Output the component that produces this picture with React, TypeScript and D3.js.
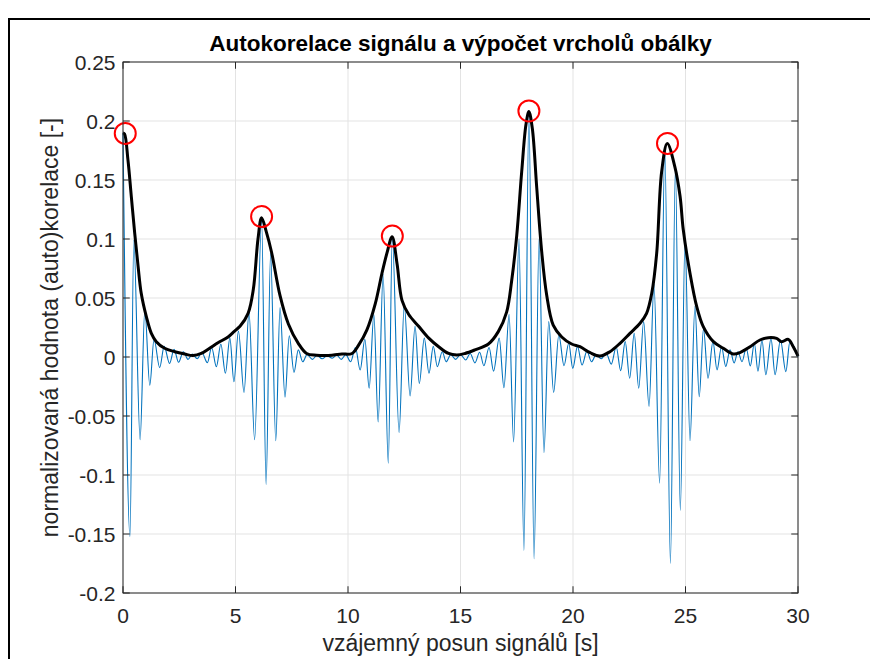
import React from 'react';
import * as d3 from 'd3';

const signalTime = [
  0.00, 0.31, 0.48, 0.76, 0.97, 1.19, 1.38, 1.63, 1.83, 2.07, 2.27, 2.47, 2.68, 2.89, 3.08, 3.30, 3.50, 3.75, 3.94, 4.15,
  4.35, 4.55, 4.75, 4.93, 5.13, 5.38, 5.60, 5.85, 6.16, 6.36, 6.56, 6.79, 6.98, 7.20, 7.39, 7.60, 7.79, 7.99, 8.18, 8.42,
  8.62, 8.85, 9.07, 9.30, 9.50, 9.70, 9.90, 10.12, 10.33, 10.54, 10.75, 10.94, 11.15, 11.34, 11.56, 11.79, 11.97, 12.27, 12.50, 12.76,
  12.98, 13.17, 13.39, 13.60, 13.79, 13.97, 14.19, 14.36, 14.57, 14.78, 15.00, 15.23, 15.43, 15.64, 15.85, 16.04, 16.27, 16.47, 16.72, 16.93,
  17.16, 17.36, 17.60, 17.82, 18.04, 18.27, 18.49, 18.71, 18.92, 19.14, 19.37, 19.60, 19.81, 19.99, 20.20, 20.40, 20.62, 20.82, 21.03, 21.25,
  21.48, 21.70, 21.92, 22.12, 22.32, 22.52, 22.72, 22.92, 23.14, 23.38, 23.60, 23.85, 24.08, 24.33, 24.55, 24.77, 24.98, 25.20, 25.42, 25.61,
  25.80, 26.00, 26.22, 26.40, 26.60, 26.79, 26.98, 27.16, 27.33, 27.51, 27.70, 27.88, 28.06, 28.22, 28.40, 28.57, 28.80, 28.98, 29.22, 29.46,
  29.64, 30.00,
];
const signalValue = [
  0.19, -0.152, 0.099, -0.070, 0.040, -0.024, 0.015, -0.009, 0.009, -0.0055, 0.0065, -0.0045, 0.0045, -0.002, 0.0025, -0.0015, 0.004, -0.0048, 0.008, -0.0082,
  0.011, -0.0138, 0.016, -0.021, 0.022, -0.030, 0.038, -0.070, 0.116, -0.108, 0.088, -0.071, 0.042, -0.034, 0.018, -0.013, 0.006, -0.004, 0.002, -0.002,
  0.0015, -0.0015, 0.001, -0.001, 0.0015, -0.002, 0.002, -0.004, 0.008, -0.011, 0.015, -0.0265, 0.036, -0.055, 0.070, -0.090, 0.102, -0.064, 0.044, -0.033,
  0.026, -0.0225, 0.016, -0.0138, 0.009, -0.0082, 0.0045, -0.004, 0.002, -0.002, 0.002, -0.0025, 0.003, -0.005, 0.004, -0.0074, 0.008, -0.012, 0.016, -0.026,
  0.036, -0.072, 0.100, -0.164, 0.207, -0.171, 0.100, -0.081, 0.030, -0.030, 0.0186, -0.0074, 0.0116, -0.0096, 0.009, -0.0068, 0.005, -0.004, 0.002, -0.0015,
  0.003, -0.006, 0.0085, -0.0116, 0.013, -0.018, 0.020, -0.0265, 0.030, -0.042, 0.062, -0.107, 0.178, -0.175, 0.160, -0.130, 0.100, -0.071, 0.043, -0.0336,
  0.024, -0.018, 0.013, -0.011, 0.0087, -0.008, 0.006, -0.005, 0.0045, -0.004, 0.0074, -0.0076, 0.0116, -0.012, 0.0144, -0.015, 0.0158, -0.015, 0.0144, -0.0124,
  0.013, 0.000,
];

const envelopeTime = [
  0.00, 0.07, 0.22, 0.37, 0.52, 0.67, 0.81, 1.04, 1.26, 1.48, 1.85, 2.30, 2.74, 3.11, 3.48, 3.85, 4.22, 4.67, 4.96, 5.20,
  5.56, 5.79, 6.00, 6.16, 6.37, 6.60, 6.98, 7.35, 7.79, 8.16, 8.60, 9.00, 9.35, 9.73, 10.18, 10.47, 10.84, 11.21, 11.51, 11.73,
  11.96, 12.18, 12.40, 12.70, 13.14, 13.59, 14.03, 14.47, 14.84, 15.20, 15.64, 16.24, 16.68, 17.05, 17.27, 17.50, 17.72, 17.91, 18.04, 18.19,
  18.39, 18.61, 18.83, 19.12, 19.50, 19.94, 20.31, 20.76, 21.20, 21.64, 22.09, 22.53, 22.98, 23.27, 23.50, 23.72, 23.94, 24.19, 24.53, 24.76,
  24.90, 25.20, 25.50, 25.79, 26.24, 26.68, 27.13, 27.42, 27.87, 28.31, 28.68, 29.05, 29.27, 29.57, 29.79, 30.00,
];
const envelopeValue = [
  0.190, 0.189, 0.167, 0.136, 0.105, 0.077, 0.054, 0.034, 0.020, 0.013, 0.0074, 0.0045, 0.0025, 0.0012, 0.003, 0.0074, 0.012, 0.017, 0.022, 0.026,
  0.037, 0.057, 0.100, 0.118, 0.106, 0.089, 0.052, 0.028, 0.0116, 0.003, 0.0015, 0.0012, 0.0017, 0.0025, 0.003, 0.010, 0.023, 0.045, 0.071, 0.088,
  0.102, 0.079, 0.048, 0.036, 0.026, 0.016, 0.0087, 0.003, 0.0017, 0.003, 0.006, 0.011, 0.0215, 0.038, 0.064, 0.103, 0.157, 0.197, 0.208, 0.194,
  0.143, 0.089, 0.0525, 0.027, 0.017, 0.011, 0.0087, 0.0037, 0.0008, 0.0045, 0.0116, 0.020, 0.0286, 0.037, 0.054, 0.088, 0.157, 0.181, 0.161, 0.136,
  0.108, 0.071, 0.0426, 0.0257, 0.013, 0.0074, 0.0025, 0.0037, 0.0087, 0.0144, 0.0164, 0.0158, 0.013, 0.015, 0.0087, 0.0008,
];

const peakTime = [0.1, 6.16, 11.97, 18.04, 24.2];
const peakValue = [0.1895, 0.119, 0.1025, 0.2085, 0.181];

const xTicks = [0, 5, 10, 15, 20, 25, 30];
const xTickLabels = ['0', '5', '10', '15', '20', '25', '30'];
const yTicks = [-0.2, -0.15, -0.1, -0.05, 0, 0.05, 0.1, 0.15, 0.2, 0.25];
const yTickLabels = ['-0.2', '-0.15', '-0.1', '-0.05', '0', '0.05', '0.1', '0.15', '0.2', '0.25'];

const titleText = 'Autokorelace signálu a výpočet vrcholů obálky';
const xLabelText = 'vzájemný posun signálů [s]';
const yLabelText = 'normalizovaná hodnota (auto)korelace [-]';

export default function App() {
  const W = 870;
  const H = 659;
  const left = 123, right = 798, top = 62, bottom = 593;
  const x = d3.scaleLinear().domain([0, 30]).range([left, right]);
  const y = d3.scaleLinear().domain([-0.2, 0.25]).range([bottom, top]);
  const font = '"Liberation Sans", Arial, Helvetica, sans-serif';
  const axisColor = '#262626';
  const tickLen = 6.75;

  const signal = signalTime.map((t, i) => [t, signalValue[i]] as [number, number]);
  const envelope = envelopeTime.map((t, i) => [t, envelopeValue[i]] as [number, number]);

  const blueLine = d3.line<[number, number]>()
    .x(d => x(d[0])).y(d => y(d[1]))
    .curve(d3.curveMonotoneX);
  const envLine = d3.line<[number, number]>()
    .x(d => x(d[0])).y(d => y(d[1]))
    .curve(d3.curveCatmullRom.alpha(0.5));

  return (
    <svg width={W} height={H} style={{ position: 'absolute', left: 0, top: 0, background: '#fff' }}>
      <rect x={0} y={0} width={W} height={H} fill="#fff" />
      <rect x={9} y={19} width={W + 20} height={H + 20} fill="none" stroke="#000" strokeWidth={2} />
      {/* grid */}
      <g stroke="#e3e3e3" strokeWidth={1}>
        {xTicks.map(t => (
          <line key={'gx' + t} x1={x(t)} x2={x(t)} y1={top} y2={bottom} />
        ))}
        {yTicks.map(t => (
          <line key={'gy' + t} x1={left} x2={right} y1={y(t)} y2={y(t)} />
        ))}
      </g>
      <path d={blueLine(signal) || ''} fill="none" stroke="#0072BD" strokeWidth={1.1} />
      <path d={envLine(envelope) || ''} fill="none" stroke="#000" strokeWidth={3} strokeLinejoin="round" />
      {peakTime.map((t, i) => (
        <circle key={'pk' + i} cx={x(t)} cy={y(peakValue[i])} r={10.5} fill="none" stroke="#ff0000" strokeWidth={2} />
      ))}
      {/* axes box */}
      <rect x={left} y={top} width={right - left} height={bottom - top} fill="none" stroke={axisColor} strokeWidth={1} />
      <g stroke={axisColor} strokeWidth={1}>
        {xTicks.map(t => (
          <g key={'tx' + t}>
            <line x1={x(t)} x2={x(t)} y1={bottom} y2={bottom - tickLen} />
            <line x1={x(t)} x2={x(t)} y1={top} y2={top + tickLen} />
          </g>
        ))}
        {yTicks.map(t => (
          <g key={'ty' + t}>
            <line x1={left} x2={left + tickLen} y1={y(t)} y2={y(t)} />
            <line x1={right} x2={right - tickLen} y1={y(t)} y2={y(t)} />
          </g>
        ))}
      </g>
      <g fill={axisColor} fontFamily={font} fontSize={21}>
        {xTicks.map((t, i) => (
          <text key={'lx' + t} x={x(t)} y={bottom + 30} textAnchor="middle">{xTickLabels[i]}</text>
        ))}
        {yTicks.map((t, i) => (
          <text key={'ly' + t} x={left - 7.5} y={y(t) + 7.5} textAnchor="end">{yTickLabels[i]}</text>
        ))}
      </g>
      <text x={(left + right) / 2} y={651} textAnchor="middle" fontFamily={font} fontSize={23} fill={axisColor}>{xLabelText}</text>
      <text transform={`translate(58, ${(top + bottom) / 2}) rotate(-90)`} textAnchor="middle" fontFamily={font} fontSize={23} fill={axisColor}>{yLabelText}</text>
      <text x={(left + right) / 2} y={51} textAnchor="middle" fontFamily={font} fontSize={22.5} fontWeight="bold" fill="#000">{titleText}</text>
    </svg>
  );
}
